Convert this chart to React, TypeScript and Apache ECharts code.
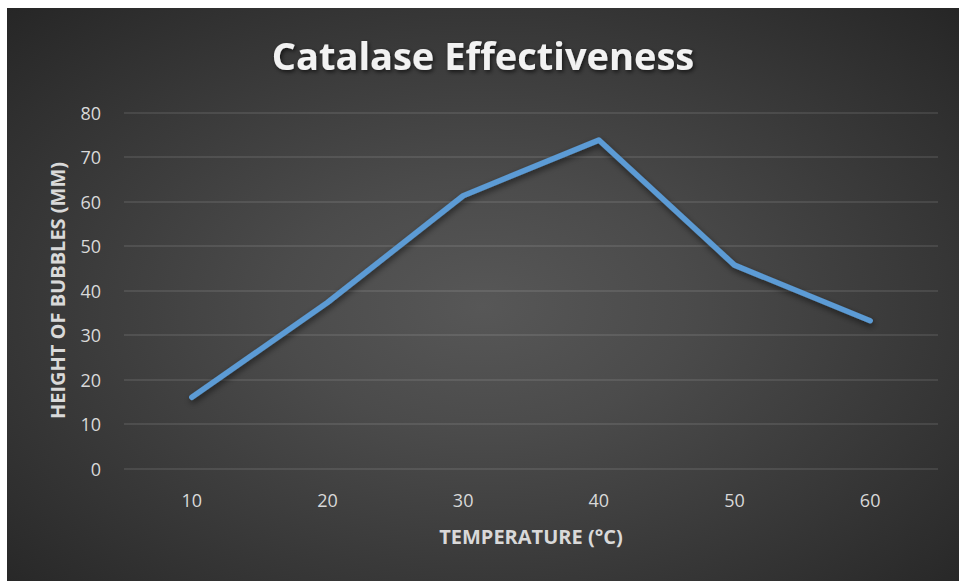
import React, { useEffect, useRef } from "react";
import * as echarts from "echarts";

const temperatures = ["10", "20", "30", "40", "50", "60"];
const bubbleHeights = [16, 37.3, 61.3, 73.8, 45.7, 33.2];
const yTicks = { min: 0, max: 80, interval: 10 };
const chartTitle = "Catalase Effectiveness";
const xAxisTitle = "TEMPERATURE (°C)";
const yAxisTitle = "HEIGHT OF BUBBLES (MM)";

export default function App() {
  const ref = useRef<HTMLDivElement>(null);

  useEffect(() => {
    if (!ref.current) return;
    const chart = echarts.init(ref.current, undefined, { renderer: "svg" });
    const labelColor = "#d9d9d9";
    const font = "'Open Sans', 'Noto Sans', sans-serif";
    chart.setOption({
      animation: false,
      backgroundColor: "transparent",
      title: {
        text: chartTitle,
        left: "center",
        top: 23,
        textStyle: {
          color: "#f2f2f2",
          fontSize: 38,
          fontWeight: "bold",
          fontFamily: font,
          textShadowColor: "rgba(0,0,0,0.65)",
          textShadowBlur: 4,
          textShadowOffsetX: 1.5,
          textShadowOffsetY: 2,
        },
      },
      grid: { left: 117, right: 21, top: 104.5, bottom: 112.5, containLabel: false },
      xAxis: {
        type: "category",
        data: temperatures,
        boundaryGap: true,
        axisLine: { show: false },
        axisTick: { show: false },
        axisLabel: { color: labelColor, fontSize: 18, fontFamily: font, margin: 22 },
        name: xAxisTitle,
        nameLocation: "middle",
        nameGap: 58,
        nameTextStyle: { color: labelColor, fontSize: 20, fontWeight: "bold", fontFamily: font },
      },
      yAxis: {
        type: "value",
        min: yTicks.min,
        max: yTicks.max,
        interval: yTicks.interval,
        axisLine: { show: false },
        axisTick: { show: false },
        axisLabel: { color: labelColor, fontSize: 18, fontFamily: font, margin: 23 },
        splitLine: { lineStyle: { color: "rgba(255,255,255,0.13)", width: 1.5 } },
        name: yAxisTitle,
        nameLocation: "middle",
        nameGap: 57,
        nameTextStyle: { color: labelColor, fontSize: 20, fontWeight: "bold", fontFamily: font },
      },
      series: [
        {
          type: "line",
          data: bubbleHeights,
          showSymbol: false,
          symbol: "none",
          lineStyle: {
            color: "#5b9bd5",
            width: 5.5,
            cap: "round",
            join: "round",
            shadowColor: "rgba(0,0,0,0.55)",
            shadowBlur: 6,
            shadowOffsetX: 1,
            shadowOffsetY: 3,
          },
          itemStyle: { color: "#5b9bd5" },
        },
      ],
    });
    return () => chart.dispose();
  }, []);

  return (
    <div
      style={{
        position: "fixed",
        left: 0,
        top: 0,
        width: 959,
        height: 581,
        background: "#ffffff",
        overflow: "hidden",
      }}
    >
      <div
        style={{
          position: "absolute",
          left: 7,
          top: 8,
          width: 952,
          height: 573,
          background:
            "radial-gradient(ellipse farthest-corner at 50% 52%, #575757 0%, #4b4b4b 30%, #262626 100%)",
        }}
      >
        <div ref={ref} style={{ width: 952, height: 573 }} />
      </div>
    </div>
  );
}
